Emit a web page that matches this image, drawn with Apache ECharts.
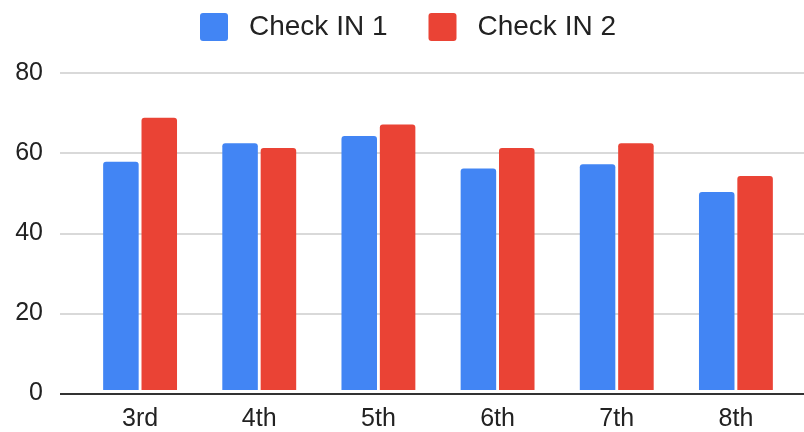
<!DOCTYPE html>
<html><head><meta charset="utf-8">
<script src="https://cdn.jsdelivr.net/npm/echarts@6/dist/echarts.min.js"></script>
<style>html,body{margin:0;padding:0;background:#fff}#c{width:804px;height:432px}</style>
</head><body><div id="c"></div>
<script>
const categories = ['3rd','4th','5th','6th','7th','8th'];
const checkIn1 = [57.6, 62.3, 64.1, 55.9, 57.0, 50.0];
const checkIn2 = [68.7, 61.1, 67.0, 61.1, 62.3, 54.0];
const yTicks = [0, 20, 40, 60, 80];

const chart = echarts.init(document.getElementById('c'));
const font = '"Liberation Sans", Arial, sans-serif';
chart.setOption({
  animation: false,
  legend: {
    top: 13, left: 200, padding: 0,
    itemWidth: 28, itemHeight: 28, itemGap: 41,
    icon: 'path://M3,0 H25 Q28,0 28,3 V25 Q28,28 25,28 H3 Q0,28 0,25 V3 Q0,0 3,0 Z',
    textStyle: { fontFamily: font, fontSize: 28, color: '#222', padding: [0, 0, 0, 16] },
    data: ['Check IN 1', 'Check IN 2']
  },
  grid: [
    { left: 60, right: 0, top: 73, height: 320.5 },
    { left: 80.5, right: 8.5, top: 73, height: 320.5 }
  ],
  xAxis: [
    { gridIndex: 0, type: 'category', data: categories, show: false },
    { gridIndex: 1, type: 'category', data: categories,
      axisLine: { show: false }, axisTick: { show: false },
      axisLabel: { fontFamily: font, fontSize: 25, color: '#222', margin: 17 } }
  ],
  yAxis: [
    { gridIndex: 0, type: 'value', min: yTicks[0], max: yTicks[yTicks.length-1], interval: 20,
      axisLine: { show: false }, axisTick: { show: false },
      splitLine: { lineStyle: { color: '#cccccc', width: 1.5 } },
      axisLabel: { fontFamily: font, fontSize: 25, color: '#222', margin: 17 } },
    { gridIndex: 1, type: 'value', min: yTicks[0], max: yTicks[yTicks.length-1], interval: 20,
      show: false, splitLine: { show: false } }
  ],
  series: [
    { name: 'Check IN 1', type: 'bar', xAxisIndex: 1, yAxisIndex: 1, data: checkIn1,
      itemStyle: { color: '#4285F4', borderRadius: [3,3,0,0] },
      barGap: '8%', barCategoryGap: '38%' },
    { name: 'Check IN 2', type: 'bar', xAxisIndex: 1, yAxisIndex: 1, data: checkIn2,
      itemStyle: { color: '#EA4335', borderRadius: [3,3,0,0] },
      barGap: '8%', barCategoryGap: '38%' },
    { type: 'line', xAxisIndex: 0, yAxisIndex: 0, data: [], silent: true,
      markLine: { silent: true, symbol: 'none', label: { show: false },
        lineStyle: { color: '#333', width: 2, type: 'solid' },
        data: [{ yAxis: 0 }] } }
  ]
});
</script></body></html>
